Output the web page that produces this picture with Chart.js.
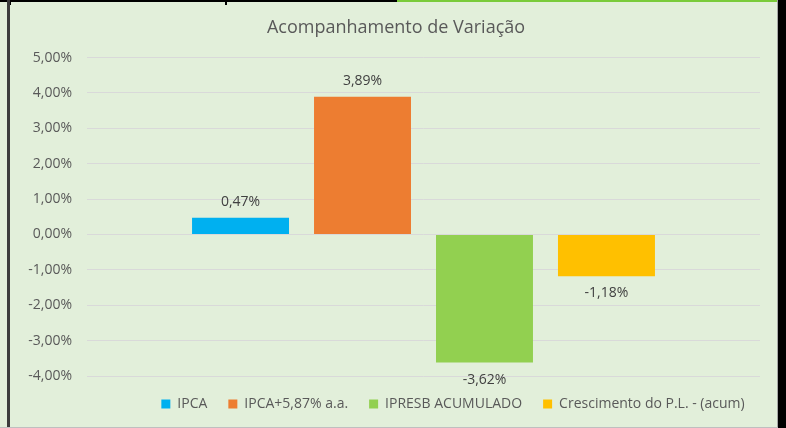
<!DOCTYPE html>
<html>
<head>
<meta charset="utf-8">
<script src="https://cdn.jsdelivr.net/npm/chart.js@4"></script>
<style>
  html, body { margin: 0; padding: 0; background: #ffffff; overflow: hidden; }
  canvas { display: block; }
</style>
</head>
<body>
<canvas id="grafico" width="786" height="428"></canvas>
<script>
// dados do gráfico
const categorias = [''];
const series = ['IPCA', 'IPCA+5,87% a.a.', 'IPRESB ACUMULADO', 'Crescimento do P.L. - (acum)'];
const valores = [0.47, 3.89, -3.62, -1.18];
const cores = ['#00B0F0', '#ED7D31', '#92D050', '#FFC000'];
const ticksY = [-4, -3, -2, -1, 0, 1, 2, 3, 4, 5];

const fonte = "'Open Sans', sans-serif";

function fmt(v) {
    return v.toFixed(2).replace('.', ',') + '%';
}

// fundo e bordas da planilha
const fundo = {
    id: 'fundo',
    beforeDraw(chart) {
        const c = chart.ctx;
        const w = chart.width, h = chart.height;
        c.save();
        c.fillStyle = '#E2EFDA';
        c.fillRect(0, 0, w, h);
        c.fillStyle = '#000000';
        c.fillRect(0, 0, 397, 2);
        c.fillRect(9, 0, 2, 5);
        c.fillRect(225, 0, 2, 5);
        c.fillStyle = '#7ACB3A';
        c.fillRect(397, 0, 381, 2);
        c.fillStyle = '#3C3C3C';
        c.fillRect(7, 0, 3, h);
        c.fillStyle = '#A6A6A6';
        c.fillRect(777, 0, 1, h);
        c.fillStyle = '#000000';
        c.fillRect(778, 0, 8, h);
        c.fillStyle = '#BFBFBF';
        c.fillRect(0, h - 1, 778, 1);
        c.restore();
    }
};

// legenda deslocada para a direita, como no original
const legendaDesloc = {
    id: 'legendaDesloc',
    afterLayout(chart) {
        chart.legend.left += 114;
    }
};

// rótulos de dados
const rotulos = {
    id: 'rotulos',
    afterDatasetsDraw(chart) {
        const c = chart.ctx;
        c.save();
        c.font = '14px ' + fonte;
        c.fillStyle = '#404040';
        c.textAlign = 'center';
        c.textBaseline = 'middle';
        chart.data.datasets.forEach((ds, i) => {
            const meta = chart.getDatasetMeta(i);
            meta.data.forEach((bar, j) => {
                const v = ds.data[j];
                const y = v >= 0 ? bar.y - 16 : bar.y + 17;
                c.fillText(fmt(v), bar.x, y);
            });
        });
        c.restore();
    }
};

new Chart(document.getElementById('grafico'), {
    type: 'bar',
    data: {
        labels: categorias,
        datasets: series.map((nome, i) => ({
            label: nome,
            data: [valores[i]],
            backgroundColor: cores[i],
            borderWidth: 0
        }))
    },
    options: {
        responsive: false,
        animation: false,
        categoryPercentage: 0.725,
        barPercentage: 0.795,
        layout: { padding: { left: 10, right: 4, top: 11, bottom: 7 } },
        plugins: {
            title: {
                display: true,
                text: 'Acompanhamento de Variação',
                color: '#595959',
                font: { family: fonte, size: 18, weight: 'normal' },
                padding: { top: 6, bottom: 19 }
            },
            legend: {
                position: 'bottom',
                labels: {
                    boxWidth: 9,
                    boxHeight: 9,
                    color: '#595959',
                    font: { family: fonte, size: 14 },
                    padding: 21
                }
            },
            tooltip: { enabled: false }
        },
        scales: {
            x: {
                display: false,
                grid: { display: false }
            },
            y: {
                min: -4,
                max: 5,
                afterBuildTicks(scale) {
                    scale.ticks = ticksY.map(v => ({ value: v }));
                },
                afterFit(scale) {
                    scale.width = 77;
                },
                border: { display: false },
                grid: { color: '#D9D9D9', lineWidth: 1, drawTicks: false },
                ticks: {
                    color: '#595959',
                    font: { family: fonte, size: 14 },
                    padding: 15,
                    callback: v => fmt(v)
                }
            },
            margem: {
                type: 'linear',
                position: 'right',
                display: true,
                afterFit(scale) {
                    scale.width = 22;
                },
                border: { display: false },
                grid: { display: false },
                ticks: { display: false }
            }
        }
    },
    plugins: [fundo, legendaDesloc, rotulos]
});
</script>
</body>
</html>
